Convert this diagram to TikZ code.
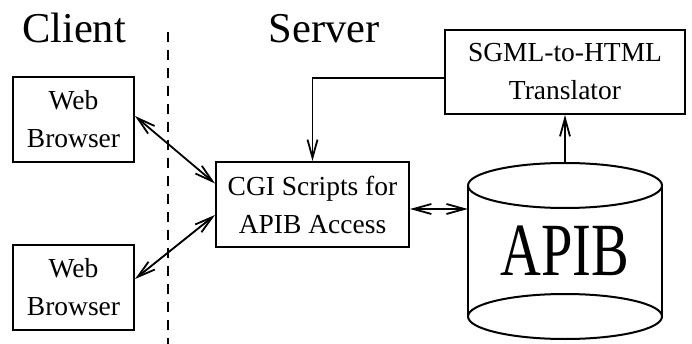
\documentclass[tikz,border=0pt]{standalone}
\usepackage{fontspec}
\setmainfont{Liberation Serif}
\usetikzlibrary{arrows.meta}

\tikzset{
    box/.style={draw, line width=2pt, align=center, inner sep=0pt,
        font=\fontsize{27.5}{38}\selectfont},
    side/.style={font=\fontsize{42.5}{50}\selectfont, anchor=base, inner sep=0pt},
    link/.style={line width=1.8pt},
}

\begin{document}
\begin{tikzpicture}[x=1pt,y=-1pt,>={Straight Barb[length=18pt,width=10pt]}]
    \useasboundingbox (0,0) rectangle (692,344);
    % headings and the client/server divide
    \node[side] (client) at (74,43) {Client};
    \node[side] (server) at (324,43) {Server};
    \coordinate (divtop) at (168,32);
    \coordinate (divbot) at (168,344);
    \draw[line width=1.2pt, dash pattern=on 10pt off 8pt] (divtop) -- (divbot);
    % boxes
    \node[box, minimum width=121pt, minimum height=85pt] (web1) at (73.5,119.5) {Web\\Browser};
    \node[box, minimum width=121pt, minimum height=85pt] (web2) at (73.5,287.5) {Web\\Browser};
    \node[box, minimum width=193pt, minimum height=85pt] (cgi) at (312.5,204.5) {CGI Scripts for\\APIB Access};
    \node[box, minimum width=240pt, minimum height=84pt] (sgml) at (565,72) {SGML-to-HTML\\Translator};
    % the database
    \node[minimum width=194pt, minimum height=176pt, inner sep=0pt] (db) at (565,251)
        {\fontsize{56.5}{60}\selectfont\scalebox{1}[1.33]{APIB}};
    \draw[line width=2pt] (565,185.5) ellipse (97 and 22.5);
    \draw[line width=2pt] (565,316.5) ellipse (97 and 22.5);
    \draw[line width=2pt] (468,185.5) -- (468,316.5);
    \draw[line width=2pt] (662,185.5) -- (662,316.5);
    % connectors
    \draw[link,<->] ([yshift=3.5pt]web1.east) -- ([yshift=21pt]cgi.west);
    \draw[link,<->] ([yshift=8.5pt]web2.east) -- ([yshift=-10.5pt]cgi.west);
    \draw[link,<->] ([yshift=-4.5pt]cgi.east) -- ([yshift=-4.5pt]cgi.east -| db.west);
    \draw[link,->] (db.north) -- (sgml.south);
    \draw[link,->] ([yshift=-6pt]sgml.west) -| (cgi.north);
\end{tikzpicture}
\end{document}
